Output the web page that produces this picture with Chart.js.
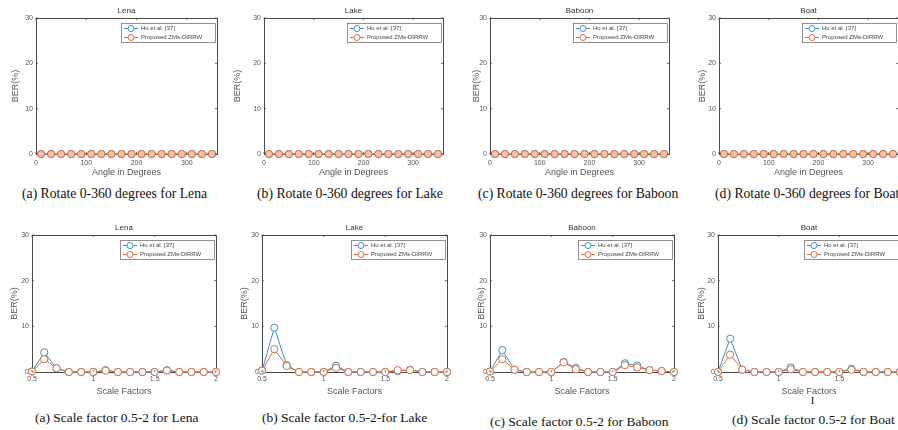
<!DOCTYPE html>
<html>
<head>
<meta charset="utf-8">
<script src="https://cdn.jsdelivr.net/npm/chart.js@4.4.0/dist/chart.umd.min.js"></script>
<style>
  body { margin: 0; width: 898px; height: 430px; overflow: hidden; background: #fff; position: relative; }
  canvas { position: absolute; }
  .cap { position: absolute; font-family: "Liberation Serif", "Times New Roman", serif; line-height: 14px; white-space: nowrap; color: #111; }
</style>
</head>
<body>
<canvas id="rotLena"></canvas>
<canvas id="rotLake"></canvas>
<canvas id="rotBaboon"></canvas>
<canvas id="rotBoat"></canvas>
<canvas id="scLena"></canvas>
<canvas id="scLake"></canvas>
<canvas id="scBaboon"></canvas>
<canvas id="scBoat"></canvas>

<div class="cap" style="left:22px;top:187px;font-size:13.7px">(a) Rotate 0-360 degrees for Lena</div>
<div class="cap" style="left:257px;top:187px;font-size:13.7px">(b) Rotate 0-360 degrees for Lake</div>
<div class="cap" style="left:478px;top:187px;font-size:13.7px">(c) Rotate 0-360 degrees for Baboon</div>
<div class="cap" style="left:715px;top:187px;font-size:13.7px">(d) Rotate 0-360 degrees for Boat</div>
<div class="cap" style="left:35px;top:411px;font-size:13.5px">(a) Scale factor 0.5-2 for Lena</div>
<div class="cap" style="left:262px;top:411px;font-size:13.5px">(b) Scale factor 0.5-2-for Lake</div>
<div class="cap" style="left:490px;top:415px;font-size:13.5px">(c) Scale factor 0.5-2 for Baboon</div>
<div class="cap" style="left:732px;top:413px;font-size:13.5px">(d) Scale factor 0.5-2 for Boat</div>
<div class="cap" style="left:811px;top:394px;font-size:10px">I</div>

<script>
// ---- data ----
const seriesNames = ['Hu et al. [37]', 'Proposed ZMs-DIRRW'];
const berTicks = [0, 10, 20, 30];

const angles = [10, 30, 50, 70, 90, 110, 130, 150, 170, 190, 210, 230, 250, 270, 290, 310, 330, 350];
const angleTicks = [0, 100, 200, 300];

const rotHuLena   = [0, 0, 0, 0, 0, 0, 0, 0, 0, 0, 0, 0, 0, 0, 0, 0, 0, 0];
const rotPropLena = [0, 0, 0, 0, 0, 0, 0, 0, 0, 0, 0, 0, 0, 0, 0, 0, 0, 0];
const rotHuLake   = [0, 0, 0, 0, 0, 0, 0, 0, 0, 0, 0, 0, 0, 0, 0, 0, 0, 0];
const rotPropLake = [0, 0, 0, 0, 0, 0, 0, 0, 0, 0, 0, 0, 0, 0, 0, 0, 0, 0];
const rotHuBaboon   = [0, 0, 0, 0, 0, 0, 0, 0, 0, 0, 0, 0, 0, 0, 0, 0, 0, 0];
const rotPropBaboon = [0, 0, 0, 0, 0, 0, 0, 0, 0, 0, 0, 0, 0, 0, 0, 0, 0, 0];
const rotHuBoat   = [0, 0, 0, 0, 0, 0, 0, 0, 0, 0, 0, 0, 0, 0, 0, 0, 0, 0];
const rotPropBoat = [0, 0, 0, 0, 0, 0, 0, 0, 0, 0, 0, 0, 0, 0, 0, 0, 0, 0];

const scaleFactors = [0.5, 0.6, 0.7, 0.8, 0.9, 1.0, 1.1, 1.2, 1.3, 1.4, 1.5, 1.6, 1.7, 1.8, 1.9, 2.0];
const scaleTicks = [0.5, 1, 1.5, 2];

const scHuLena     = [0.1, 4.3, 0.8, 0, 0, 0, 0.4, 0, 0, 0, 0, 0.4, 0, 0, 0, 0];
const scPropLena   = [0.1, 2.8, 0.8, 0, 0, 0, 0.3, 0, 0, 0, 0, 0.3, 0, 0, 0, 0];
const scHuLake     = [0.3, 9.7, 1.5, 0, 0, 0, 1.4, 0, 0, 0, 0, 0.2, 0.5, 0, 0, 0];
const scPropLake   = [0.3, 5.0, 1.3, 0, 0, 0, 0.9, 0, 0, 0, 0, 0.4, 0.4, 0, 0, 0];
const scHuBaboon   = [0.1, 4.8, 0.5, 0, 0, 0, 2.2, 0.9, 0, 0, 0, 1.9, 1.4, 0.4, 0.2, 0];
const scPropBaboon = [0.1, 2.8, 0.5, 0, 0, 0, 2.1, 0.6, 0, 0, 0, 1.5, 1.0, 0.4, 0.2, 0];
const scHuBoat     = [0, 7.3, 0.5, 0, 0, 0, 1.0, 0, 0, 0, 0, 0.7, 0, 0, 0, 0];
const scPropBoat   = [0, 3.8, 0.5, 0, 0, 0, 0.6, 0, 0, 0, 0, 0.5, 0, 0, 0, 0];

// ---- style ----
const BLUE = '#3d8fc6';
const ORANGE = '#dc6c40';
const AXIS = '#4a4a4a';
const TXT = '#555';
Chart.defaults.font.family = '"Liberation Sans", Arial, sans-serif';

// legend box in the top-right corner of the plot, like matlab
const boxLegend = {
  id: 'boxLegend',
  afterDraw(chart) {
    const { ctx, chartArea: a } = chart;
    const w = 94, h = 19;
    const x0 = a.right - w - 2, y0 = a.top + 5;
    ctx.save();
    ctx.fillStyle = '#fff';
    ctx.fillRect(x0, y0, w, h);
    ctx.strokeStyle = '#777';
    ctx.lineWidth = 0.8;
    ctx.strokeRect(x0 + 0.5, y0 + 0.5, w, h);
    chart.data.datasets.forEach((ds, i) => {
      const yy = y0 + 5.5 + i * 9;
      ctx.strokeStyle = ds.borderColor;
      ctx.lineWidth = 1;
      ctx.beginPath(); ctx.moveTo(x0 + 3, yy); ctx.lineTo(x0 + 17, yy); ctx.stroke();
      ctx.beginPath(); ctx.arc(x0 + 10, yy, 3, 0, Math.PI * 2);
      ctx.fillStyle = '#fff'; ctx.fill(); ctx.stroke();
      ctx.fillStyle = '#444';
      ctx.font = '6px "Liberation Sans", Arial';
      ctx.textBaseline = 'middle';
      ctx.fillText(ds.label, x0 + 20, yy);
    });
    ctx.restore();
  }
};

// small inward ticks on all four sides
const innerTicks = {
  id: 'innerTicks',
  afterDraw(chart) {
    const { ctx, chartArea: a, scales } = chart;
    ctx.save();
    ctx.strokeStyle = AXIS;
    ctx.lineWidth = 0.8;
    ctx.beginPath();
    scales.x.ticks.forEach(t => {
      const px = scales.x.getPixelForValue(t.value);
      ctx.moveTo(px, a.bottom); ctx.lineTo(px, a.bottom - 2);
      ctx.moveTo(px, a.top); ctx.lineTo(px, a.top + 2);
    });
    scales.y.ticks.forEach(t => {
      const py = scales.y.getPixelForValue(t.value);
      ctx.moveTo(a.left, py); ctx.lineTo(a.left + 2, py);
      ctx.moveTo(a.right, py); ctx.lineTo(a.right - 2, py);
    });
    ctx.stroke();
    ctx.restore();
  }
};

function makeChart(p) {
  const cv = document.getElementById(p.id);
  cv.style.left = p.left + 'px';
  cv.style.top = p.top + 'px';
  cv.width = p.w; cv.height = p.h;
  cv.style.width = p.w + 'px'; cv.style.height = p.h + 'px';

  const toPts = arr => p.xs.map((x, i) => ({ x: x, y: arr[i] }));
  const border = { display: true, color: AXIS, width: 1 };

  return new Chart(cv.getContext('2d'), {
    type: 'line',
    data: {
      datasets: [{
        label: seriesNames[0],
        data: toPts(p.hu),
        borderColor: BLUE,
        borderWidth: 1,
        pointRadius: 3.6,
        pointBorderWidth: 1,
        pointBackgroundColor: p.fill0,
        pointBorderColor: BLUE,
        clip: false,
        order: 1
      }, {
        label: seriesNames[1],
        data: toPts(p.prop),
        borderColor: ORANGE,
        borderWidth: 1,
        pointRadius: 3.6,
        pointBorderWidth: 1,
        pointBackgroundColor: p.fill1,
        pointBorderColor: ORANGE,
        clip: false,
        order: 0
      }]
    },
    options: {
      responsive: false,
      animation: false,
      devicePixelRatio: 1,
      layout: { padding: 0 },
      plugins: { legend: { display: false }, tooltip: { enabled: false } },
      scales: {
        x: {
          type: 'linear', position: 'bottom', min: p.xmin, max: p.xmax,
          afterBuildTicks: s => { s.ticks = p.xticks.map(v => ({ value: v })); },
          afterFit: s => { s.height = p.xH; },
          grid: { display: false, drawTicks: false },
          border: border,
          ticks: { padding: p.tickPad, color: TXT, font: { size: 7 }, maxRotation: 0, autoSkip: false, callback: v => String(v) },
          title: { display: true, text: p.xlabel, color: TXT, font: { size: 9 }, padding: { top: 0, bottom: p.xTitlePad } }
        },
        xTop: {
          type: 'linear', position: 'top', min: p.xmin, max: p.xmax,
          afterFit: s => { s.height = p.topH; },
          grid: { display: false, drawTicks: false },
          border: border,
          ticks: { display: false },
          title: { display: true, text: p.name, color: '#333', font: { size: 8 }, padding: { top: p.namePad, bottom: 0 } }
        },
        y: {
          type: 'linear', position: 'left', min: 0, max: 30,
          afterBuildTicks: s => { s.ticks = berTicks.map(v => ({ value: v })); },
          afterFit: s => { s.width = p.yW; },
          grid: { display: false, drawTicks: false },
          border: border,
          ticks: { padding: 3, color: TXT, font: { size: 7 } },
          title: { display: true, text: 'BER(%)', color: TXT, font: { size: 9 }, padding: { top: p.yTitleX - 5.4, bottom: 0 } }
        },
        yRight: {
          type: 'linear', position: 'right', min: 0, max: 30,
          afterFit: s => { s.width = p.rW; },
          grid: { display: false, drawTicks: false },
          border: border,
          ticks: { display: false }
        }
      }
    },
    plugins: [innerTicks, boxLegend]
  });
}

// rotation row
const rotRow = { top: 0, h: 182, topH: 18, xH: 28, namePad: 5.5, xTitlePad: 3.6, tickPad: 5,
  xs: angles, xmin: 0, xmax: 360, xticks: angleTicks, xlabel: 'Angle in Degrees',
  fill0: '#fff', fill1: '#f2c2ad' };
// scale row
const scRow = { top: 210, h: 190, topH: 25, xH: 28, namePad: 13.2, xTitlePad: 2.6, tickPad: 3,
  xs: scaleFactors, xmin: 0.5, xmax: 2, xticks: scaleTicks, xlabel: 'Scale Factors',
  fill0: '#fff', fill1: '#fff' };

makeChart(Object.assign({}, rotRow, { id: 'rotLena', name: 'Lena', left: 0, w: 225, yW: 36, rW: 8, yTitleX: 16, hu: rotHuLena, prop: rotPropLena }));
makeChart(Object.assign({}, rotRow, { id: 'rotLake', name: 'Lake', left: 225, w: 225, yW: 39, rW: 7, yTitleX: 13, hu: rotHuLake, prop: rotPropLake }));
makeChart(Object.assign({}, rotRow, { id: 'rotBaboon', name: 'Baboon', left: 465, w: 212, yW: 25, rW: 8, yTitleX: 12, hu: rotHuBaboon, prop: rotPropBaboon }));
makeChart(Object.assign({}, rotRow, { id: 'rotBoat', name: 'Boat', left: 690, w: 215, yW: 29, rW: 7, yTitleX: 13, hu: rotHuBoat, prop: rotPropBoat }));

makeChart(Object.assign({}, scRow, { id: 'scLena', name: 'Lena', left: 0, w: 225, yW: 32, rW: 9, yTitleX: 15, hu: scHuLena, prop: scPropLena }));
makeChart(Object.assign({}, scRow, { id: 'scLake', name: 'Lake', left: 230, w: 225, yW: 32, rW: 8, yTitleX: 15, hu: scHuLake, prop: scPropLake }));
makeChart(Object.assign({}, scRow, { id: 'scBaboon', name: 'Baboon', left: 465, w: 215, yW: 25, rW: 6, yTitleX: 17, hu: scHuBaboon, prop: scPropBaboon }));
makeChart(Object.assign({}, scRow, { id: 'scBoat', name: 'Boat', left: 690, w: 215, yW: 28, rW: 4, yTitleX: 12, hu: scHuBoat, prop: scPropBoat }));
</script>
</body>
</html>
